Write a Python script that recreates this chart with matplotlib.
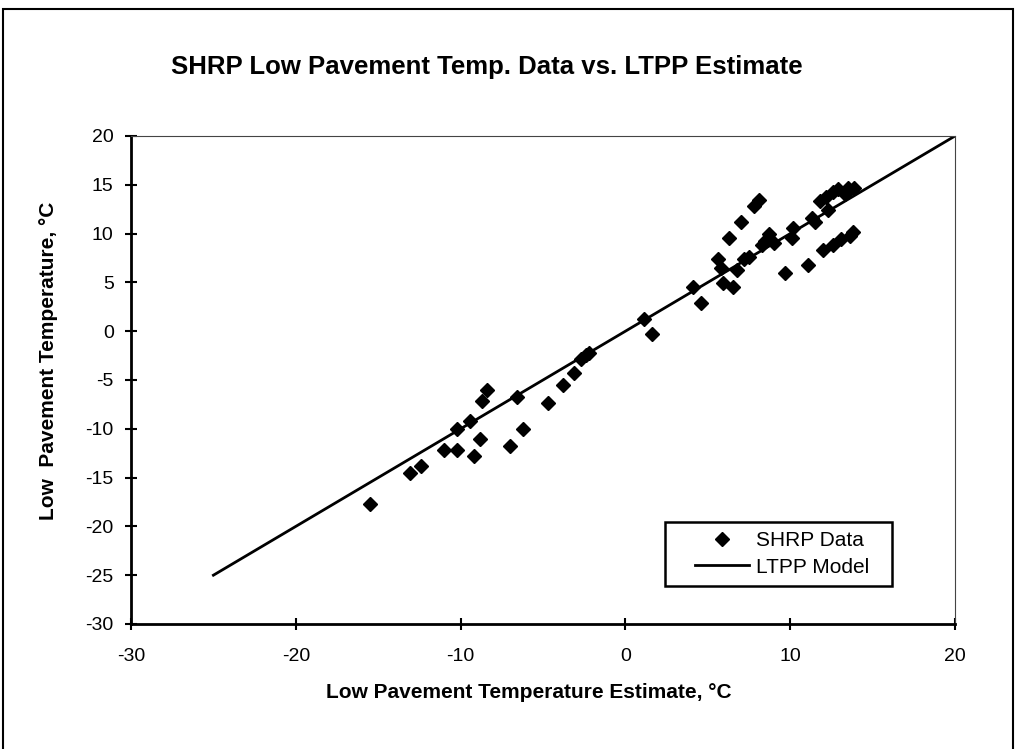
import numpy as np
import matplotlib
matplotlib.use('Agg')
import matplotlib.pyplot as plt
from matplotlib.patches import Rectangle

plt.rcParams['font.family'] = ['Liberation Sans', 'DejaVu Sans']
plt.rcParams['axes.unicode_minus'] = False

# SHRP measured data (estimate, measured)
shrp_est = [-15.5, -13.1, -12.4, -11.0, -10.2, -10.2, -9.4, -9.2, -8.8, -8.7,
            -8.4, -7.0, -6.6, -6.2, -4.7, -3.8, -3.1, -2.7, -2.4, -2.2,
            1.1, 1.6, 4.1, 4.6, 5.6, 5.8, 5.9, 6.3, 6.5, 6.8,
            7.0, 7.2, 7.5, 7.8, 8.1, 8.3, 8.5, 8.7, 9.0, 9.7,
            10.1, 10.2, 11.1, 11.3, 11.5, 11.8, 12.0, 12.2, 12.3, 12.6,
            12.6, 12.9, 13.1, 13.3, 13.6, 13.5, 13.8, 13.9]
shrp_meas = [-17.7, -14.5, -13.8, -12.2, -12.2, -10.0, -9.2, -12.8, -11.0, -7.2,
             -6.0, -11.8, -6.7, -10.0, -7.4, -5.5, -4.3, -2.8, -2.4, -2.2,
             1.3, -0.3, 4.5, 2.9, 7.4, 6.5, 4.9, 9.6, 4.5, 6.3,
             11.2, 7.4, 7.6, 12.8, 13.4, 8.8, 9.2, 10.0, 9.0, 6.0,
             9.5, 10.6, 6.8, 11.6, 11.2, 13.3, 8.3, 13.8, 12.4, 8.8,
             14.3, 14.6, 9.4, 14.1, 9.8, 14.7, 10.2, 14.7]

# LTPP model line
model_x = [-25, 20]
model_y = [-25, 20]

fig = plt.figure(figsize=(10.16, 7.49), dpi=100)
ax = fig.add_axes([131 / 1016, 125 / 749, 824 / 1016, 488 / 749])

ax.plot(shrp_est, shrp_meas, linestyle='none', marker='D', markersize=7.5,
        color='black', label='SHRP Data')
ax.plot(model_x, model_y, color='black', linewidth=2, label='LTPP Model')

ax.set_xlim(-30, 20)
ax.set_ylim(-30, 20)
ax.set_xticks(np.arange(-30, 21, 10))
ax.set_yticks(np.arange(-30, 21, 5))
ax.tick_params(direction='inout', length=9, width=1.5, labelsize=14)
ax.tick_params(axis='x', pad=13)
ax.tick_params(axis='y', pad=8)

for side in ['left', 'bottom']:
    ax.spines[side].set_linewidth(2)
for side in ['top', 'right']:
    ax.spines[side].set_linewidth(0.8)
    ax.spines[side].set_color('#444444')

ax.set_xlabel('Low Pavement Temperature Estimate, °C', fontsize=15,
              fontweight='bold')
ax.xaxis.set_label_coords(0.483, -0.12)
ax.set_ylabel('Low  Pavement Temperature, °C', fontsize=15,
              fontweight='bold')
ax.yaxis.set_label_coords(-0.088, 0.54)

fig.text(487 / 1016, 1 - 67 / 749,
         'SHRP Low Pavement Temp. Data vs. LTPP Estimate',
         fontsize=18.5, fontweight='bold', ha='center', va='center')

# legend box drawn separately so its size matches the original
ax.add_patch(Rectangle((0.648, 0.078), 0.2755, 0.131, transform=ax.transAxes,
                       fill=False, edgecolor='black', linewidth=1.8,
                       zorder=5))
leg = ax.legend(loc='center', bbox_to_anchor=(0.79, 0.1434), fontsize=15,
                frameon=False, borderpad=0.2, labelspacing=0.35,
                handlelength=2.6, handletextpad=0.3)

fig.patches.append(Rectangle((3 / 1016, -0.05), 1010 / 1016, 1.05 - 9 / 749,
                             transform=fig.transFigure, fill=False,
                             edgecolor='black', linewidth=1.5))

fig.savefig('out.png', dpi=100)
